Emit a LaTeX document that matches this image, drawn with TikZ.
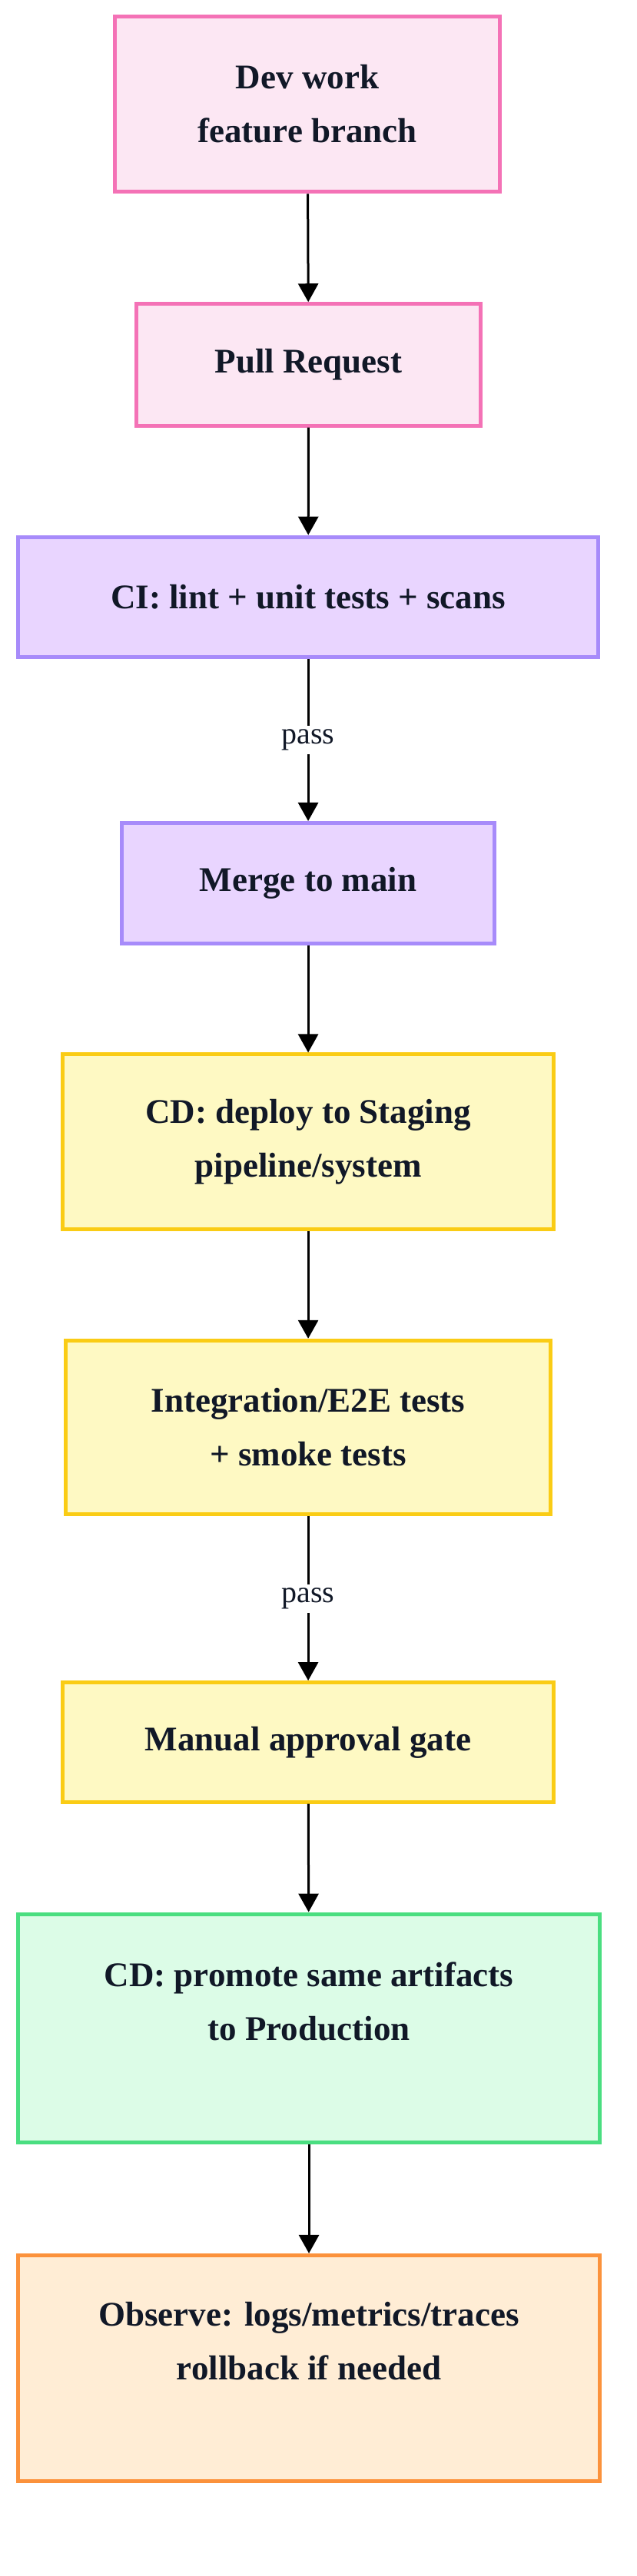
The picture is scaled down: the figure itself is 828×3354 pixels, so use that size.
\documentclass[tikz,border=0pt]{standalone}
\usepackage{fontspec}
\setmainfont{Liberation Serif}
\usetikzlibrary{arrows.meta}
\definecolor{txt}{HTML}{111827}
\definecolor{pinkF}{HTML}{FCE7F3}\definecolor{pinkS}{HTML}{F472B6}
\definecolor{purF}{HTML}{E9D5FF}\definecolor{purS}{HTML}{A78BFA}
\definecolor{yelF}{HTML}{FEF9C3}\definecolor{yelS}{HTML}{FACC15}
\definecolor{grnF}{HTML}{DCFCE7}\definecolor{grnS}{HTML}{4ADE80}
\definecolor{orF}{HTML}{FFEDD5}\definecolor{orS}{HTML}{FB923C}
\tikzset{
 box/.style={draw=#1S, fill=#1F, line width=5pt, text=txt, align=center,
   font=\fontsize{45}{70}\selectfont\bfseries, inner sep=0pt},
 arr/.style={line width=3pt, -{Triangle[length=24pt,width=26pt]}},
 lab/.style={fill=white, font=\fontsize{40}{44}\selectfont, text=txt, inner sep=5pt}
}
\newcommand{\bx}[7]{\node[box=#2, minimum width=(#5-#4)*0.9723pt, minimum height=(#7-#6)*0.9723pt] (#1) at ({(#4+#5)/2*0.9723pt}, {-(#6+#7)/2*0.9723pt}) {#3};}
\begin{document}
\begin{tikzpicture}[x=1pt,y=1pt]
\useasboundingbox (0,0) rectangle (828,-3354);
\bx{a}{pink}{Dev work\\feature branch}{154}{669}{22}{257}
\bx{b}{pink}{Pull Request}{183}{643}{407}{570}
\bx{c}{pur}{CI: lint + unit tests + scans}{24}{801}{719}{880}
\bx{d}{pur}{Merge to main}{163}{662}{1102}{1263}
\bx{e}{yel}{CD: deploy to Staging\\pipeline/system}{84}{741}{1412}{1646}
\bx{f}{yel}{Integration/E2E tests\\+ smoke tests}{88}{737}{1795}{2028}
\bx{g}{yel}{Manual approval gate}{84}{741}{2253}{2413}
\bx{h}{grn}{CD: promote same artifacts\\to Production\\\mbox{}}{24}{803}{2563}{2869}
\bx{i}{or}{Observe: logs/metrics/traces\\rollback if needed\\\mbox{}}{24}{803}{3020}{3322}
\draw[arr] (a) -- (b);
\draw[arr] (b) -- (c);
\draw[arr] (c) -- node[lab]{pass} (d);
\draw[arr] (d) -- (e);
\draw[arr] (e) -- (f);
\draw[arr] (f) -- node[lab]{pass} (g);
\draw[arr] (g) -- (h);
\draw[arr] (h) -- (i);
\end{tikzpicture}
\end{document}
